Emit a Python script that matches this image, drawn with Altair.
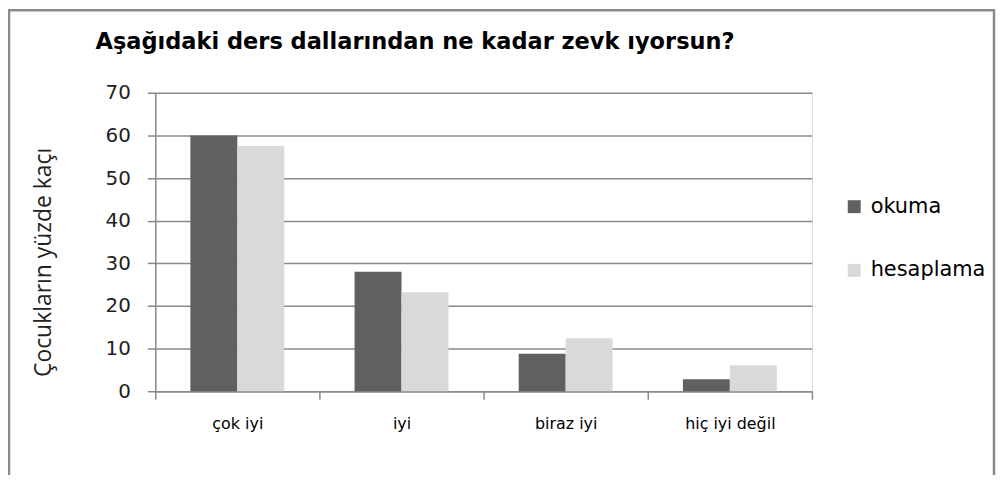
import altair as alt
import pandas as pd

title_text = "Aşağıdaki ders dallarından ne kadar zevk ıyorsun?"
y_title = "Çocukların yüzde kaçı"
categories = ["çok iyi", "iyi", "biraz iyi", "hiç iyi değil"]
series = ["okuma", "hesaplama"]
okuma = [60, 28, 8.8, 2.8]
hesaplama = [57.5, 23.2, 12.4, 6.1]
colors = ["#606060", "#d9d9d9"]
y_ticks = [0, 10, 20, 30, 40, 50, 60, 70]

rows = []
for i, c in enumerate(categories):
    rows.append({"kategori": c, "seri": "okuma", "deger": okuma[i]})
    rows.append({"kategori": c, "seri": "hesaplama", "deger": hesaplama[i]})
df = pd.DataFrame(rows)

W, H = 660, 300
PL, PT, PR, PB = 148, 84, 185, 83
GRAY = "#8a8a8a"
WIDE = "DejaVu Sans"

bars = alt.Chart(df).mark_bar().encode(
    x=alt.X("kategori:N", sort=categories,
            scale=alt.Scale(paddingInner=0, paddingOuter=0),
            axis=alt.Axis(title=None, labelAngle=0, tickBand="extent", tickSize=8,
                          labelPadding=16, labelFont=WIDE, labelFontSize=16,
                          labelColor="#000000", domainColor=GRAY, tickColor=GRAY,
                          domainWidth=1.5, tickWidth=1.5, grid=False)),
    xOffset=alt.XOffset("seri:N", sort=series,
                        scale=alt.Scale(paddingInner=0, paddingOuter=0.748)),
    y=alt.Y("deger:Q", scale=alt.Scale(domain=[0, 70], nice=False),
            axis=alt.Axis(title=y_title, values=y_ticks, tickSize=8,
                          labelPadding=17, labelFont=WIDE, labelFontSize=20,
                          labelColor="#222222", domainColor=GRAY, tickColor=GRAY,
                          domainWidth=1.5, tickWidth=1.5,
                          gridColor=GRAY, gridWidth=1.5,
                          titleFont="Open Sans", titleFontSize=23, titleFontWeight="normal",
                          titleColor="#222222", titleX=-112, titleY=170,
                          titleBaseline="middle", titleAngle=270)),
    color=alt.Color("seri:N", sort=series,
                    scale=alt.Scale(domain=series, range=colors),
                    legend=alt.Legend(title=None, orient="none", legendX=692, legendY=104,
                                      symbolType="square", symbolSize=169,
                                      symbolStrokeWidth=0, labelFont=WIDE,
                                      labelFontSize=21, labelColor="#000000",
                                      labelOffset=6, rowPadding=42, padding=0)),
)

title = alt.Chart(pd.DataFrame({"t": [title_text]})).mark_text(
    align="left", baseline="alphabetic", font="DejaVu Sans", fontSize=22.6,
    fontWeight="bold", color="#000000"
).encode(text="t:N", x=alt.value(-60), y=alt.value(-44))

border = alt.Chart(pd.DataFrame({"a": [0]})).mark_rect(
    fill=None, stroke="#8a8a8a", strokeWidth=2.5
).encode(
    x=alt.value(-PL + 1),
    x2=alt.value(W + PR - 2),
    y=alt.value(-PT + 1),
    y2=alt.value(H + PB + 10),
)

chart = alt.layer(bars, title, border).properties(
    width=W, height=H,
    autosize=alt.AutoSizeParams(type="none"),
    padding={"left": PL, "top": PT, "right": PR, "bottom": PB},
).configure_view(stroke=None).configure(background="#ffffff")

chart.save("out.html", embed_options={"renderer": "svg", "actions": False})
